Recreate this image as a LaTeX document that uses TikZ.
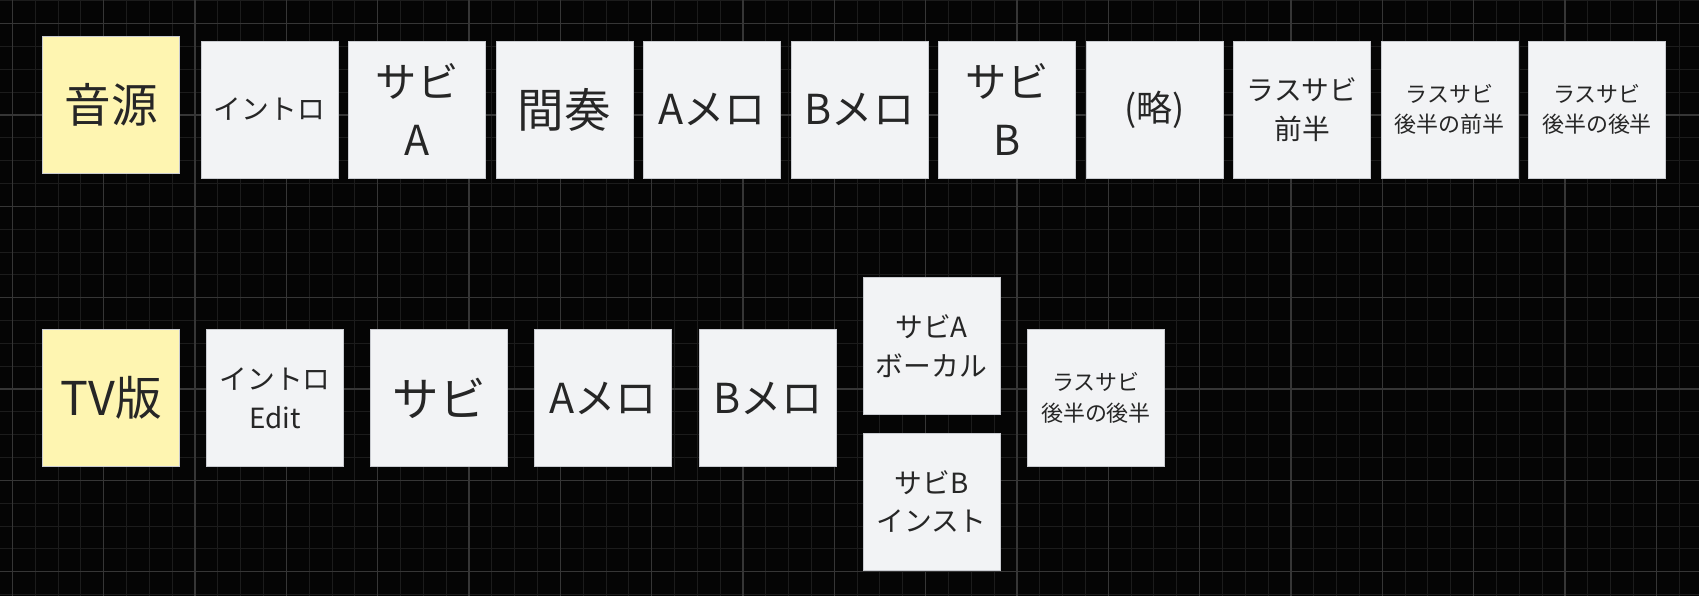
\documentclass[tikz,border=0pt]{standalone}
\usepackage{fontspec}
\setmainfont{Noto Sans CJK JP}
\usepackage{tikz}
\usepackage{xcolor}
\definecolor{boardBlack}{HTML}{050505}
\definecolor{gridMinor}{HTML}{1C1C1C}
\definecolor{gridMajor}{HTML}{363636}
\definecolor{stickyWhite}{HTML}{F2F3F5}
\definecolor{stickyYellow}{HTML}{FEF5B1}
\definecolor{stickyEdge}{HTML}{C9CBD0}
\definecolor{inkGray}{HTML}{262626}
\newcommand\drawBoardGrid{
    \fill[boardBlack] (0,0) rectangle (1699,596);
    \foreach \k in {0,...,73}
        \draw[gridMinor,line width = 0.55] ({12.4+22.83*\k},0)--({12.4+22.83*\k},596);
    \foreach \k in {0,...,26}
        \draw[gridMinor,line width = 0.55] (0,{0.97+22.83*\k})--(1699,{0.97+22.83*\k});
    \foreach \k in {0,...,18}
        \draw[gridMajor,line width = 0.75] ({12.4+91.32*\k},0)--({12.4+91.32*\k},596);
    \foreach \k in {0,...,6}
        \draw[gridMajor,line width = 0.75] (0,{23.8+91.32*\k})--(1699,{23.8+91.32*\k});
}

\begin{document}
\begin{tikzpicture}[x = 0.02cm, y = -0.02cm,
        sticky/.style = {draw = stickyEdge, line width = 0.4, fill = stickyWhite, text = inkGray,
            minimum width = 2.74cm, minimum height = 2.74cm, inner sep = 0, align = center},
        bigtext/.style = {font = \fontsize{26.5}{36}\selectfont},
        midtext/.style = {font = \fontsize{23.5}{32.5}\selectfont},
        omittext/.style = {font = \fontsize{20.5}{28}\selectfont},
        smalltext/.style = {font = \fontsize{15.8}{22}\selectfont},
        tinytext/.style = {font = \fontsize{12.5}{17.4}\selectfont}]
        \useasboundingbox (0,0) rectangle (1699,596);
        \drawBoardGrid

        \node[sticky, fill = stickyYellow, bigtext] (src) at (111,104.5) {音源};
        \foreach \txt/\sz [count = \i] in {イントロ/smalltext, サビ\\A/midtext, 間奏/bigtext,
            Aメロ/midtext, Bメロ/midtext, サビ\\B/midtext, {(略)}/omittext, ラスサビ\\前半/smalltext,
            ラスサビ\\後半の前半/tinytext, ラスサビ\\後半の後半/tinytext}
        {
            \node[sticky, \sz] (top\i) at ({269.5+147.5*(\i-1)},109.5) {\txt};
        }

        \node[sticky, fill = stickyYellow, bigtext] (tv) at (111,398) {TV版};
        \node[sticky, smalltext] (tv1) at (275,398) {イントロ\\Edit};
        \node[sticky, bigtext] (tv2) at (439,398) {サビ};
        \node[sticky, midtext] (tv3) at (603,398) {Aメロ};
        \node[sticky, midtext] (tv4) at (768,398) {Bメロ};
        \node[sticky, smalltext] (tv5a) at (931.5,346) {サビA\\ボーカル};
        \node[sticky, smalltext] (tv5b) at (931.5,501.5) {サビB\\インスト};
        \node[sticky, tinytext] (tv6) at (1096,398) {ラスサビ\\後半の後半};
    \end{tikzpicture}
\end{document}
